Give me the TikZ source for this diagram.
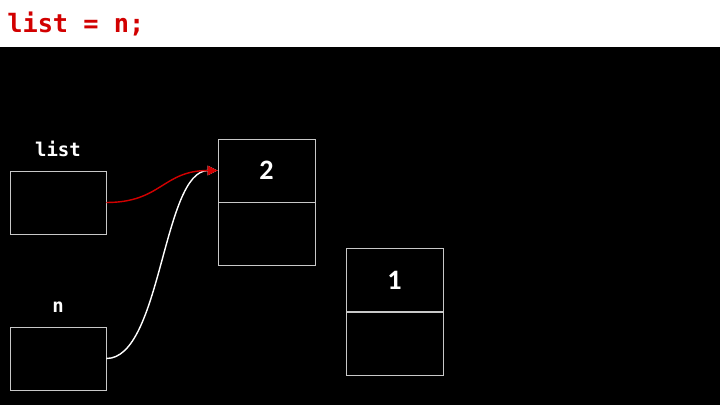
\documentclass[tikz,border=0pt]{standalone}
\usepackage{fontspec}
\setmonofont{DejaVu Sans Mono}
\setsansfont{Carlito}
\usetikzlibrary{arrows.meta,positioning}
\definecolor{CodeRed}{RGB}{210,0,0}
\definecolor{BoxGray}{RGB}{200,200,200}

\begin{document}
\begin{tikzpicture}[x=0.025cm,y=-0.025cm,
  cell/.style={draw=BoxGray,line width=0.6pt,minimum width=97*0.025cm,
               minimum height=63*0.025cm,inner sep=0pt,font=\sffamily\bfseries\fontsize{20}{20}\selectfont,text=white},
  var/.style={draw=BoxGray,line width=0.6pt,minimum width=96*0.025cm,
              minimum height=63*0.025cm,inner sep=0pt},
  vname/.style={font=\ttfamily\bfseries\fontsize{13.5}{13.5}\selectfont,text=white},
  link/.style={line width=1pt,-{Triangle[length=7pt,width=6.5pt]}},
]
\useasboundingbox (0,0) rectangle (720,405);
\fill[white] (0,0) rectangle (720,47);
\fill[black] (0,47) rectangle (720,405);
\node[anchor=base west,inner sep=0pt,text=CodeRed,
  font=\ttfamily\bfseries\fontsize{18}{18}\selectfont] (code) at (7,33) {list = n;};
% variables
\node[var] (list) at (58,202.5) {};
\node[vname,above=6.5pt of list] (listlbl) {list};
\node[var] (n) at (58,358.5) {};
\node[vname,above=6.5pt of n] (nlbl) {n};
% list nodes
\node[cell] (twoval) at (266.5,170.5) {2};
\node[cell,below=0pt of twoval] (twonext) {};
\node[cell] (oneval) at (394.5,280) {1};
\node[cell,below=0pt of oneval] (onenext) {};
% pointers
\draw[link,white] (n.east) .. controls +(55,0) and +(-55,0) .. (twoval.west);
\draw[link,CodeRed] (list.east) .. controls +(55,0) and +(-55,0) .. (twoval.west);
\end{tikzpicture}
\end{document}
